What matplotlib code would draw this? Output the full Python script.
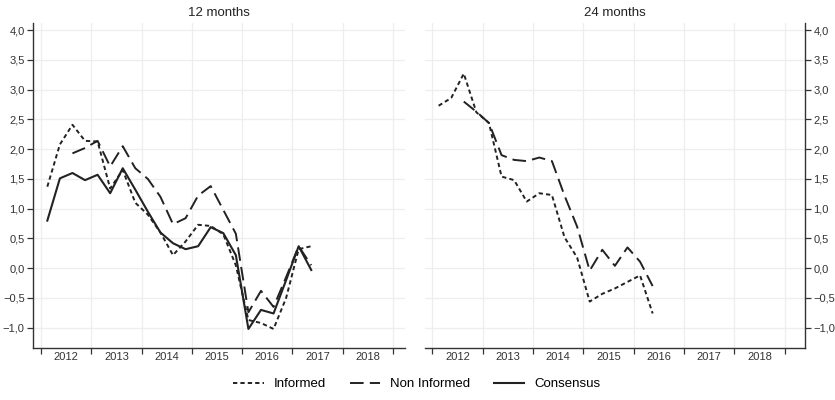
import matplotlib
matplotlib.use("Agg")
import matplotlib.pyplot as plt
from matplotlib.ticker import FixedLocator, FuncFormatter, NullFormatter
import numpy as np

plt.rcParams["font.family"] = ["Liberation Sans", "DejaVu Sans"]

# quarterly observations, first one in Q1 2012
start_year = 2012
nan = np.nan

informed_12 = [1.37, 2.08, 2.41, 2.14, 2.13, 1.34, 1.65, 1.10, 0.90, 0.60, 0.22,
               0.45, 0.73, 0.71, 0.57, 0.05, -0.87, -0.92, -1.02, -0.50, 0.32, 0.37]
non_informed_12 = [nan, nan, 1.93, 2.02, 2.14, 1.71, 2.05, 1.68, 1.50, 1.20, 0.74,
                   0.84, 1.22, 1.38, 0.98, 0.58, -0.74, -0.38, -0.65, -0.15, 0.37, 0.05]
consensus_12 = [0.80, 1.51, 1.60, 1.48, 1.57, 1.26, 1.68, 1.32, 0.95, 0.60, 0.42,
                0.32, 0.37, 0.69, 0.59, 0.22, -1.02, -0.70, -0.76, -0.20, 0.37, -0.03]

informed_24 = [2.73, 2.86, 3.27, 2.62, 2.44, 1.54, 1.48, 1.12, 1.26, 1.23, 0.52,
               0.18, -0.56, -0.43, -0.34, -0.23, -0.12, -0.76]
non_informed_24 = [nan, nan, 2.80, 2.63, 2.44, 1.90, 1.82, 1.80, 1.86, 1.80, 1.22,
                   0.70, -0.04, 0.31, 0.04, 0.35, 0.11, -0.30]

years = [2012, 2013, 2014, 2015, 2016, 2017, 2018]
y_ticks = [-1.0, -0.5, 0.0, 0.5, 1.0, 1.5, 2.0, 2.5, 3.0, 3.5, 4.0]

INK = "#222222"
GRID = "#eeeeee"
DOT = (0, (2.2, 1.6))
DASH = (0, (7, 3.2))


def quarter_x(n):
    return start_year + 0.125 + 0.25 * np.arange(n)


def comma_fmt(v, _pos):
    return f"{v:.1f}".replace(".", ",").replace("-", "\u2212")


def style_axis(ax, side, xlim):
    ax.set_xlim(*xlim)
    ax.set_ylim(-1.335, 4.12)
    for s in ax.spines.values():
        s.set_visible(False)
    ax.spines["bottom"].set_visible(True)
    ax.spines[side].set_visible(True)
    for s in ("bottom", side):
        ax.spines[s].set_color("#333333")
        ax.spines[s].set_linewidth(1.0)

    # year boundaries carry the tick marks, labels sit mid-year
    ax.xaxis.set_major_locator(FixedLocator(list(range(2012, 2020))))
    ax.xaxis.set_major_formatter(NullFormatter())
    ax.xaxis.set_minor_locator(FixedLocator([y + 0.5 for y in years]))
    ax.xaxis.set_minor_formatter(FuncFormatter(lambda v, p: str(int(v))))
    ax.tick_params(axis="x", which="major", length=4, width=0.9, color="#333333", direction="out")
    ax.tick_params(axis="x", which="minor", length=0, labelsize=8, labelcolor="#333333", pad=3)

    ax.yaxis.set_major_locator(FixedLocator(y_ticks))
    ax.yaxis.set_major_formatter(FuncFormatter(comma_fmt))
    if side == "right":
        ax.yaxis.tick_right()
    ax.tick_params(axis="y", length=4, width=0.9, color="#333333", labelsize=8,
                   labelcolor="#333333", pad=2)

    ax.grid(True, which="major", color=GRID, linewidth=0.9)
    ax.set_axisbelow(True)


fig = plt.figure(figsize=(8.35, 4.0), dpi=100)
ax1 = fig.add_axes([33 / 835, 1 - 347.7 / 400, 372 / 835, 324.7 / 400])
ax2 = fig.add_axes([425 / 835, 1 - 347.7 / 400, 380 / 835, 324.7 / 400])

# 12 months
l_inf, = ax1.plot(quarter_x(len(informed_12)), informed_12, color=INK, lw=1.4,
                  linestyle=DOT, label="Informed")
l_non, = ax1.plot(quarter_x(len(non_informed_12)), non_informed_12, color=INK, lw=1.4,
                  linestyle=DASH, label="Non Informed")
l_con, = ax1.plot(quarter_x(len(consensus_12)), consensus_12, color=INK, lw=1.5,
                  linestyle="-", label="Consensus")
style_axis(ax1, "left", (2011.84, 2019.24))
ax1.set_title("12 months", fontsize=9.5, color="#222222", pad=5)

# 24 months
ax2.plot(quarter_x(len(informed_24)), informed_24, color=INK, lw=1.4, linestyle=DOT)
ax2.plot(quarter_x(len(non_informed_24)), non_informed_24, color=INK, lw=1.4, linestyle=DASH)
style_axis(ax2, "right", (2011.855, 2019.40))
ax2.set_title("24 months", fontsize=9.5, color="#222222", pad=5)

fig.legend(handles=[l_inf, l_non, l_con], loc="center", bbox_to_anchor=(0.499, 0.04),
           ncol=3, frameon=False, fontsize=9.5, handlelength=2.3, columnspacing=1.8,
           handletextpad=0.75)

fig.savefig("out.png", dpi=100, facecolor="white")
